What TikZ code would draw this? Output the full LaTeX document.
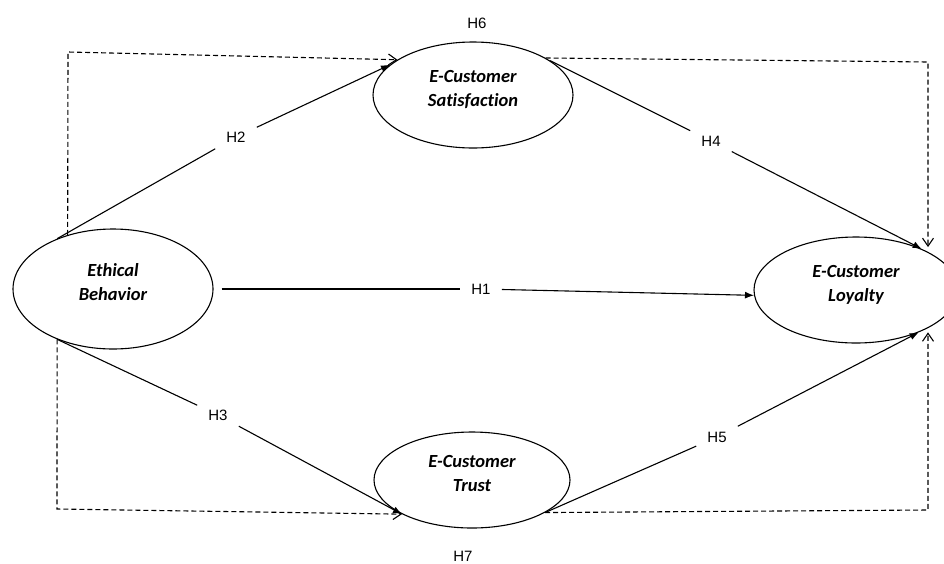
\documentclass[tikz,border=0pt]{standalone}
\usepackage{fontspec}
\setmainfont{Carlito}[Ligatures=NoCommon]
\newfontfamily\hfont{Liberation Sans}
\usetikzlibrary{shapes.geometric,arrows.meta}

\begin{document}
\begin{tikzpicture}[
x=1pt, y=-1pt,
construct/.style={
draw,
ellipse,
line width=1.1pt,
align=center,
inner sep=0pt,
text depth=14pt,
font=\fontsize{18.5}{24}\selectfont\bfseries\itshape
},
hyp/.style={
font=\hfont\fontsize{15}{18}\selectfont,
inner xsep=11pt,
inner ysep=10pt
},
link/.style={line width=1.1pt},
arr/.style={line width=1.1pt, -{Latex[length=9pt,width=7pt]}},
indirect/.style={
line width=1.1pt,
dash pattern=on 5pt off 3pt,
-{Straight Barb[length=8pt,width=11pt]}
}
]

\useasboundingbox (0,0) rectangle (944,563);

% constructs
\node[construct, minimum width=200pt, minimum height=120pt] (EB) at (113,289) {Ethical\\Behavior};
\node[construct, minimum width=200pt, minimum height=106pt] (SAT) at (473,95) {E-Customer\\Satisfaction};
\node[construct, minimum width=196pt, minimum height=96pt] (TR) at (472,480) {E-Customer\\Trust};
\node[construct, minimum width=204pt, minimum height=106pt] (LOY) at (856,290) {E-Customer\\Loyalty};

% hypotheses
\node[hyp] (h1) at (481,289) {H1};
\node[hyp] (h2) at (236,137) {H2};
\node[hyp] (h3) at (218,415) {H3};
\node[hyp] (h4) at (711,141) {H4};
\node[hyp] (h5) at (717,437) {H5};
\node[hyp] (h6) at (477,23) {H6};
\node[hyp] (h7) at (463,556) {H7};

% corners of the mediation paths
\coordinate (c1) at (68,52);
\coordinate (c2) at (928,62);
\coordinate (c3) at (57,509);
\coordinate (c4) at (928,510);

% direct effects
\draw[link, shorten <=8pt] (EB.east) -- (h1);
\draw[arr] (h1) -- (LOY.183);

\draw[link] (EB.138) -- (h2);
\draw[arr] (h2) -- (SAT.160);

\draw[link] (EB.222) -- (h3);
\draw[arr] (h3) -- (TR.206);

\draw[link] (SAT.24) -- (h4);
\draw[arr] (h4) -- (LOY.32);

\draw[link] (TR.336) -- (h5);
\draw[arr] (h5) -- (LOY.326);

% mediation (dashed)
\draw[indirect] (EB.130) -- (c1) -- (SAT.155);
\draw[indirect] (SAT.27) -- (c2) -- (c2 |- LOY.35);
\draw[indirect] (EB.222) -- (c3) -- (TR.206);
\draw[indirect] (TR.336) -- (c4) -- (c4 |- LOY.326);

\end{tikzpicture}
\end{document}
